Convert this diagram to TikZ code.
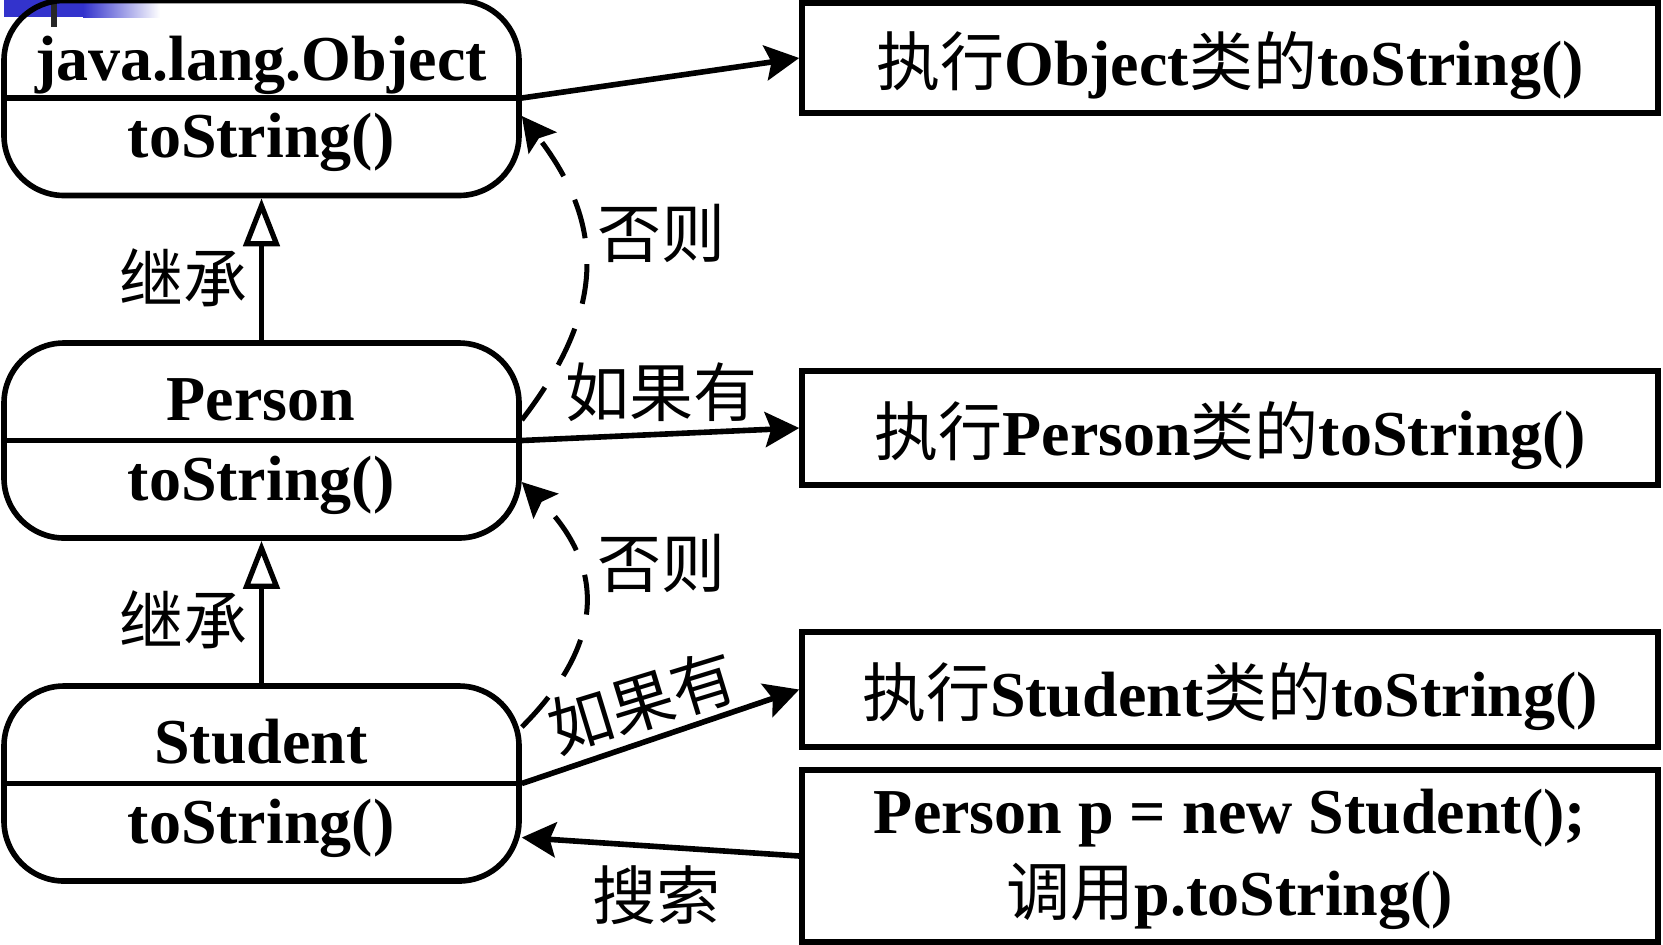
\documentclass[tikz,border=0pt]{standalone}
\usepackage{fontspec}
\setmainfont{Liberation Serif}
\newfontfamily\cjk{Noto Sans CJK SC}
\usetikzlibrary{arrows.meta}
\newcommand\bigfont{\fontsize{32pt}{40pt}\selectfont}
\newcommand\zhtxt[1]{{\cjk\mdseries #1}}
\definecolor{artblue}{RGB}{51,51,204}
\tikzset{
  classbox/.style={draw, line width=2.8pt, rounded corners=30pt, minimum width=257.5pt, minimum height=97.5pt, inner sep=0pt},
  divline/.style={line width=2.8pt},
  classtext/.style={anchor=base, inner sep=0pt, font=\bigfont\bfseries},
  resbox/.style={draw, line width=2.8pt, minimum width=428pt, inner sep=0pt, text height=35pt, text depth=8pt, font=\bigfont\bfseries},
  lbl/.style={inner sep=0pt, font=\bigfont\cjk},
  arr/.style={line width=2.8pt, -{Stealth[length=17pt, width=17.5pt, inset=3pt]}},
  dasharr/.style={line width=2.5pt, dash pattern=on 20pt off 13pt, -{Stealth[length=17pt, width=17.5pt, inset=3pt]}},
  inh/.style={line width=2.6pt, -{Triangle[open, length=24pt, width=18pt]}}
}
\begin{document}
\begin{tikzpicture}[x=0.5pt,y=-0.5pt]
\useasboundingbox (0,0) rectangle (1663,944);
% slide artefact
\fill[artblue] (4,0) rectangle (83,17);
\shade[left color=artblue, right color=white] (83,0) rectangle (160,17);
\fill[black!85] (51,0) rectangle (57,27);

% class boxes
\node[classbox] (obj) at (261.5,98) {};
\draw[divline] (obj.west) -- (obj.east);
\node[classtext] (objname) at (261,80) {java.lang.Object};
\node[classtext] (objmeth) at (261,157) {toString()};

\node[classbox] (pers) at (261.5,440.5) {};
\draw[divline] (pers.west) -- (pers.east);
\node[classtext] (persname) at (261,420) {Person};
\node[classtext] (persmeth) at (261,500) {toString()};

\node[classbox] (stu) at (261.5,783.5) {};
\draw[divline] (stu.west) -- (stu.east);
\node[classtext] (stuname) at (261,763) {Student};
\node[classtext] (stumeth) at (261,843) {toString()};

% result boxes
\node[resbox, minimum height=55pt] (r1) at (1230,58) {\zhtxt{执行}Object\zhtxt{类的}toString()};
\node[resbox, minimum height=57pt] (r2) at (1230,428) {\zhtxt{执行}Person\zhtxt{类的}toString()};
\node[resbox, minimum height=57.5pt] (r3) at (1230,689.5) {\zhtxt{执行}Student\zhtxt{类的}toString()};
\node[resbox, minimum height=86pt, text height=0pt, text depth=0pt] (r4) at (1230,856) {};
\node[classtext] (r4a) at (1230,833) {Person p = new Student();};
\node[classtext] (r4b) at (1230,915) {\zhtxt{调用}p.toString()};

% inheritance
\draw[inh] (pers.north) -- (obj.south);
\draw[inh] (stu.north) -- (pers.south);
\node[lbl] (inh1) at (183,278) {继承};
\node[lbl] (inh2) at (183,620) {继承};

% arrows to results
\draw[arr] (obj.east) -- (r1.west);
\draw[arr] (pers.east) -- (r2.west);
\draw[arr] (stu.east) -- (r3.west);
\draw[arr] (r4.west) -- ([yshift=-27pt]stu.east);

% dashed "otherwise" curves
\draw[dasharr] ([yshift=10.25pt]pers.east) .. controls +(84,-109) and +(84,109) .. ([yshift=-9pt]obj.east);
\draw[dasharr] ([yshift=28.25pt]stu.east) .. controls +(84,-84) and +(84,84) .. ([yshift=-20.75pt]pers.east);

% labels
\node[lbl] (else1) at (661,233) {否则};
\node[lbl] (if1) at (661,392) {如果有};
\node[lbl] (else2) at (661,563) {否则};
\node[lbl, rotate=17] (if2) at (642,702) {如果有};
\node[lbl] (search) at (656,895) {搜索};
\end{tikzpicture}
\end{document}
